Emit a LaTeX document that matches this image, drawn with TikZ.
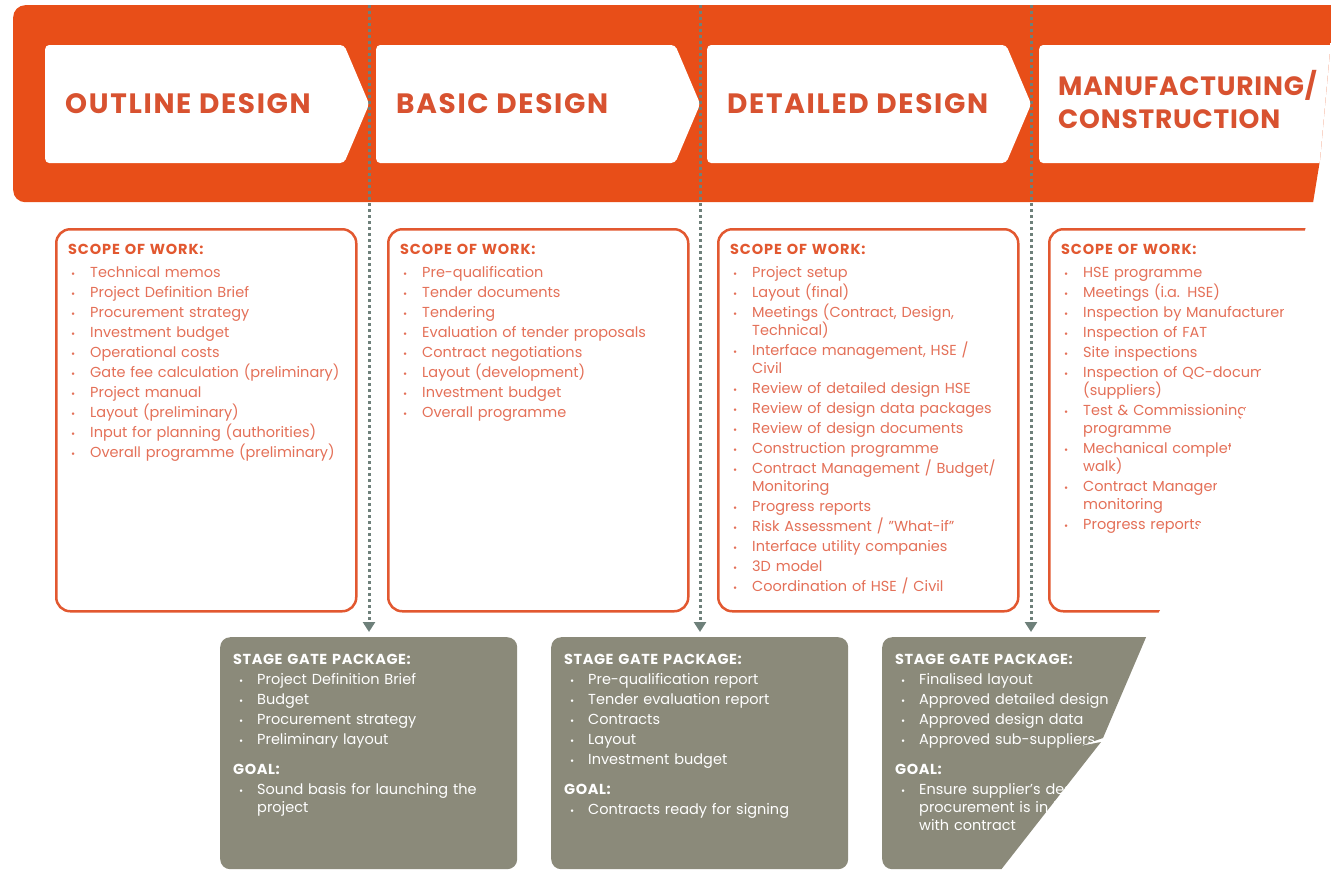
\documentclass[tikz,border=0pt]{standalone}
\usepackage{fontspec}
\setmainfont{Poppins}
\usepackage{tikz}
\usetikzlibrary{shapes.symbols, arrows.meta, positioning}
\definecolor{bandorange}{RGB}{232,78,24}
\definecolor{titleorange}{RGB}{216,82,48}
\definecolor{scopeorange}{RGB}{226,88,48}
\definecolor{itemorange}{RGB}{228,112,88}
\definecolor{gategray}{RGB}{139,138,122}
\definecolor{dotgray}{RGB}{110,128,122}
\newlength{\bulletind}
\newlength{\bulletpos}
\newcommand{\bitem}[1]{\par\hangindent=\bulletind\hangafter=1\noindent\makebox[\bulletind][l]{\hspace{\bulletpos}{\fontsize{10}{10}\selectfont\textbullet}}#1\par}
\tikzstyle{band} = [rectangle, fill=bandorange, rounded corners=12pt, minimum width=1345pt, minimum height=197pt, inner sep=0pt]
\tikzstyle{phasebox} = [signal, signal to=east, signal from=nowhere, signal pointer angle=134, fill=white, minimum height=118pt, inner sep=0pt, rounded corners=4pt]
\tikzstyle{phasetitle} = [font=\fontsize{28}{33}\selectfont\bfseries\addfontfeature{LetterSpace=6}, text=titleorange, align=left, inner sep=0pt]
\tikzstyle{scopebox} = [rectangle, draw=scopeorange, line width=2.5pt, fill=white, rounded corners=14pt, minimum width=300pt, minimum height=382pt, inner sep=0pt]
\tikzstyle{scopetext} = [text width=285pt, align=left, inner sep=0pt, text=itemorange, font={\fontsize{14.5}{18}\selectfont\setlength{\parskip}{2pt}\setlength{\bulletind}{22pt}\setlength{\bulletpos}{3pt}}]
\tikzstyle{gatebox} = [rectangle, fill=gategray, rounded corners=10pt, minimum width=297pt, minimum height=232pt, inner sep=0pt]
\tikzstyle{gatetext} = [text width=280pt, align=left, inner sep=0pt, text=white, font={\fontsize{14.5}{18}\selectfont\setlength{\parskip}{2pt}\setlength{\bulletind}{24pt}\setlength{\bulletpos}{6pt}}]
\tikzstyle{gateline} = [dotgray, line width=3pt, dash pattern=on 3pt off 3pt, -{Triangle[width=12pt,length=10pt]}]
\newcommand{\scopehead}{{\bfseries\addfontfeature{LetterSpace=6}\color{scopeorange}SCOPE OF WORK:}\par\vspace{3pt}}
\newcommand{\gatehead}{{\bfseries\addfontfeature{LetterSpace=4}STAGE GATE PACKAGE:}\par}
\newcommand{\goalhead}{\par\vspace{10pt}{\bfseries\addfontfeature{LetterSpace=4}GOAL:}\par}

\begin{document}
\begin{tikzpicture}[x=1pt, y=-1pt]
\useasboundingbox (0,0) rectangle (1331,871);
\begin{scope}
% torn right edge
\clip (0,0) -- (1331,0) -- (1331,40) -- (1320,160) -- (1313,203) -- (1305,230) -- (1280,320) -- (1240,420) -- (1210,500) -- (1160,610) -- (1147,635) -- (1103,738) -- (1080,746) -- (1101,742) -- (1000,871) -- (0,871) -- cycle;

\node (Band) [band, anchor=north west] at (13,5) {};

% stage gates
\coordinate (GateTop1) at (369,5);
\coordinate (GateEnd1) at (369,632);
\coordinate (GateTop2) at (700,5);
\coordinate (GateEnd2) at (700,632);
\coordinate (GateTop3) at (1031,5);
\coordinate (GateEnd3) at (1031,632);
\draw [gateline] (GateTop1) -- (GateEnd1);
\draw [gateline] (GateTop2) -- (GateEnd2);
\draw [gateline] (GateTop3) -- (GateEnd3);

% phases
\node (Outline) [phasebox, anchor=west, minimum width=324pt] at (45,104) {};
\node (Basic) [phasebox, anchor=west, minimum width=324pt] at (376,104) {};
\node (Detailed) [phasebox, anchor=west, minimum width=324pt] at (707,104) {};
\node (Construction) [phasebox, anchor=west, minimum width=324pt] at (1039,104) {};
\node (OutlineTitle) [phasetitle, right=20pt of Outline.west] {OUTLINE DESIGN};
\node (BasicTitle) [phasetitle, right=20pt of Basic.west] {BASIC DESIGN};
\node (DetailedTitle) [phasetitle, right=20pt of Detailed.west] {DETAILED DESIGN};
\node (ConstructionTitle) [phasetitle, font=\fontsize{26.5}{33}\selectfont\bfseries\addfontfeature{LetterSpace=3}, right=19pt of Construction.west, yshift=4pt] {MANUFACTURING/\\CONSTRUCTION};

% scope of work
\node (Scope1) [scopebox, anchor=north west] at (55,228) {};
\node (Scope2) [scopebox, anchor=north west] at (387,228) {};
\node (Scope3) [scopebox, anchor=north west] at (717,228) {};
\node (Scope4) [scopebox, anchor=north west] at (1048,228) {};
\node (ScopeText1) [scopetext, below right=16pt and 13pt of Scope1.north west] {\scopehead
	\bitem{Technical memos}
	\bitem{Project Definition Brief}
	\bitem{Procurement strategy}
	\bitem{Investment budget}
	\bitem{Operational costs}
	\bitem{Gate fee calculation (preliminary)}
	\bitem{Project manual}
	\bitem{Layout (preliminary)}
	\bitem{Input for planning (authorities)}
	\bitem{Overall programme (preliminary)}};
\node (ScopeText2) [scopetext, below right=16pt and 13pt of Scope2.north west] {\scopehead
	\bitem{Pre-qualification}
	\bitem{Tender documents}
	\bitem{Tendering}
	\bitem{Evaluation of tender proposals}
	\bitem{Contract negotiations}
	\bitem{Layout (development)}
	\bitem{Investment budget}
	\bitem{Overall programme}};
\node (ScopeText3) [scopetext, below right=16pt and 13pt of Scope3.north west] {\scopehead
	\bitem{Project setup}
	\bitem{Layout (final)}
	\bitem{Meetings (Contract, Design,\break Technical)}
	\bitem{Interface management, HSE /\break Civil}
	\bitem{Review of detailed design HSE}
	\bitem{Review of design data packages}
	\bitem{Review of design documents}
	\bitem{Construction programme}
	\bitem{Contract Management / Budget/\break Monitoring}
	\bitem{Progress reports}
	\bitem{Risk Assessment / "What-if"}
	\bitem{Interface utility companies}
	\bitem{3D model}
	\bitem{Coordination of HSE / Civil}};
\node (ScopeText4) [scopetext, below right=16pt and 13pt of Scope4.north west] {\scopehead
	\bitem{HSE programme}
	\bitem{Meetings (i.a. HSE)}
	\bitem{Inspection by Manufacturer}
	\bitem{Inspection of FAT}
	\bitem{Site inspections}
	\bitem{Inspection of QC-documentation\break (suppliers)}
	\bitem{Test \& Commissioning\break programme}
	\bitem{Mechanical completion (punch\break walk)}
	\bitem{Contract Management / Budget\break monitoring}
	\bitem{Progress reports}};

% stage gate packages
\node (Package1) [gatebox, anchor=north west] at (220,637) {};
\node (Package2) [gatebox, anchor=north west] at (551,637) {};
\node (Package3) [gatebox, anchor=north west] at (882,637) {};
\node (PackageText1) [gatetext, below right=17pt and 13pt of Package1.north west] {\gatehead
	\bitem{Project Definition Brief}
	\bitem{Budget}
	\bitem{Procurement strategy}
	\bitem{Preliminary layout}
	\goalhead
	\bitem{Sound basis for launching the\break project}};
\node (PackageText2) [gatetext, below right=17pt and 13pt of Package2.north west] {\gatehead
	\bitem{Pre-qualification report}
	\bitem{Tender evaluation report}
	\bitem{Contracts}
	\bitem{Layout}
	\bitem{Investment budget}
	\goalhead
	\bitem{Contracts ready for signing}};
\node (PackageText3) [gatetext, below right=17pt and 13pt of Package3.north west] {\gatehead
	\bitem{Finalised layout}
	\bitem{Approved detailed design}
	\bitem{Approved design data}
	\bitem{Approved sub-suppliers}
	\goalhead
	\bitem{Ensure supplier's design/\break procurement is in line\break with contract}};
\end{scope}
\end{tikzpicture}
\end{document}
